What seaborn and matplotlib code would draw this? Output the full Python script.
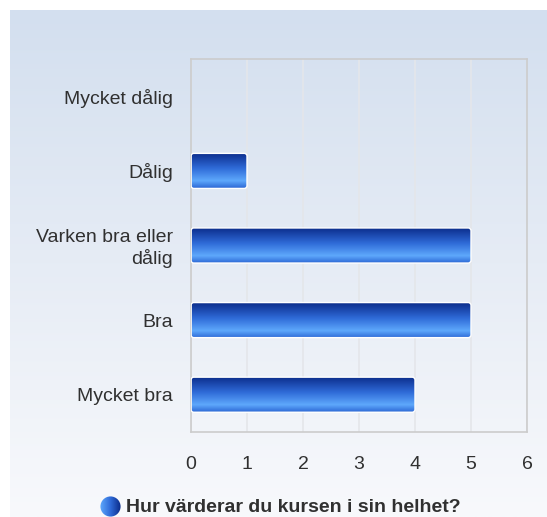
import numpy as np
import pandas as pd
import seaborn as sns
import matplotlib.pyplot as plt
from matplotlib.colors import LinearSegmentedColormap
from matplotlib.patches import FancyBboxPatch, Circle

# data
categories = ["Mycket dålig", "Dålig", "Varken bra eller\ndålig", "Bra", "Mycket bra"]
counts = [0, 1, 5, 5, 4]
x_ticks = [0, 1, 2, 3, 4, 5, 6]
series_name = "Hur värderar du kursen i sin helhet?"

df = pd.DataFrame({"kategori": categories, "antal": counts})

sns.set_style("white")
plt.rcParams["font.family"] = ["Liberation Sans", "DejaVu Sans"]
text_col = "#303030"

W, H = 547, 517
fig = plt.figure(figsize=(W / 100, H / 100), dpi=100)
fig.patch.set_facecolor("white")

# gradient panel behind everything
bg = fig.add_axes([10 / W, 0, 1 - 10 / W, 1 - 10 / H], zorder=0)
bg_cmap = LinearSegmentedColormap.from_list("bg", ["#D3DFEF", "#E6ECF5", "#F8F9FC"])
bg.imshow(np.linspace(0, 1, 256).reshape(-1, 1), aspect="auto", cmap=bg_cmap,
          extent=[0, 1, 0, 1])
bg.set_axis_off()

ax = fig.add_axes([191 / W, 1 - 432 / H, (527 - 191) / W, (432 - 59) / H], zorder=1)
ax.set_facecolor("none")

sns.barplot(data=df, x="antal", y="kategori", orient="h", width=0.47,
            color="#2a63d0", ax=ax)

ax.set_xlim(0, 6)
ax.set_ylim(4.5, -0.5)
ax.set_xticks(x_ticks)
ax.set_xticklabels([str(t) for t in x_ticks])
ax.set_xlabel("")
ax.set_ylabel("")
ax.grid(axis="x", color="#E4E6EA", linewidth=1.2)
ax.set_axisbelow(True)
for s in ax.spines.values():
    s.set_visible(True)
    s.set_color("#CCCCCC")
    s.set_linewidth(1.2)
ax.tick_params(axis="x", length=0, pad=17, labelsize=14, labelcolor=text_col)
ax.tick_params(axis="y", length=0, pad=13, labelsize=14, labelcolor=text_col)
for lbl in ax.get_yticklabels():
    lbl.set_linespacing(1.2)

# swap flat bars for vertical blue gradients with slightly rounded corners
bar_cmap = LinearSegmentedColormap.from_list(
    "bar", [(0, "#0A2A88"), (0.45, "#2F6BD8"), (0.8, "#5EA8FC"), (1, "#2E6AD6")])
grad = np.linspace(0, 1, 100).reshape(-1, 1)
for p in list(ax.patches):
    w = p.get_width()
    if w <= 0:
        p.set_visible(False)
        continue
    x0, y0, h = p.get_x(), p.get_y(), p.get_height()
    p.set_visible(False)
    clip = FancyBboxPatch((x0, y0), w, h, boxstyle="round,pad=0,rounding_size=0.05",
                          mutation_aspect=0.75, transform=ax.transData,
                          facecolor="none", edgecolor="white", linewidth=1.0, zorder=3)
    ax.add_patch(clip)
    im = ax.imshow(grad, aspect="auto", cmap=bar_cmap, extent=[x0, x0 + w, y0 + h, y0],
                   zorder=2)
    im.set_clip_path(clip)
ax.set_xlim(0, 6)
ax.set_ylim(4.5, -0.5)
ax.set_aspect("auto")

# legend: gradient circle plus bold series name
cax = fig.add_axes([100 / W, 1 - 517 / H, 21 / W, 21 / H], zorder=2)
cax.set_xlim(0, 1)
cax.set_ylim(0, 1)
leg_cmap = LinearSegmentedColormap.from_list("leg", ["#5EA8FC", "#2F6BD8", "#0A2A88"])
lim = cax.imshow(np.linspace(0, 1, 100).reshape(1, -1), aspect="auto", cmap=leg_cmap,
                 extent=[0, 1, 0, 1])
circ = Circle((0.5, 0.5), 0.48, transform=cax.transData)
lim.set_clip_path(circ)
cax.set_axis_off()

fig.text(126 / W, 1 - 507 / H, series_name, fontsize=14, fontweight="bold",
         color=text_col, ha="left", va="center")

fig.savefig("out.png", dpi=100)
